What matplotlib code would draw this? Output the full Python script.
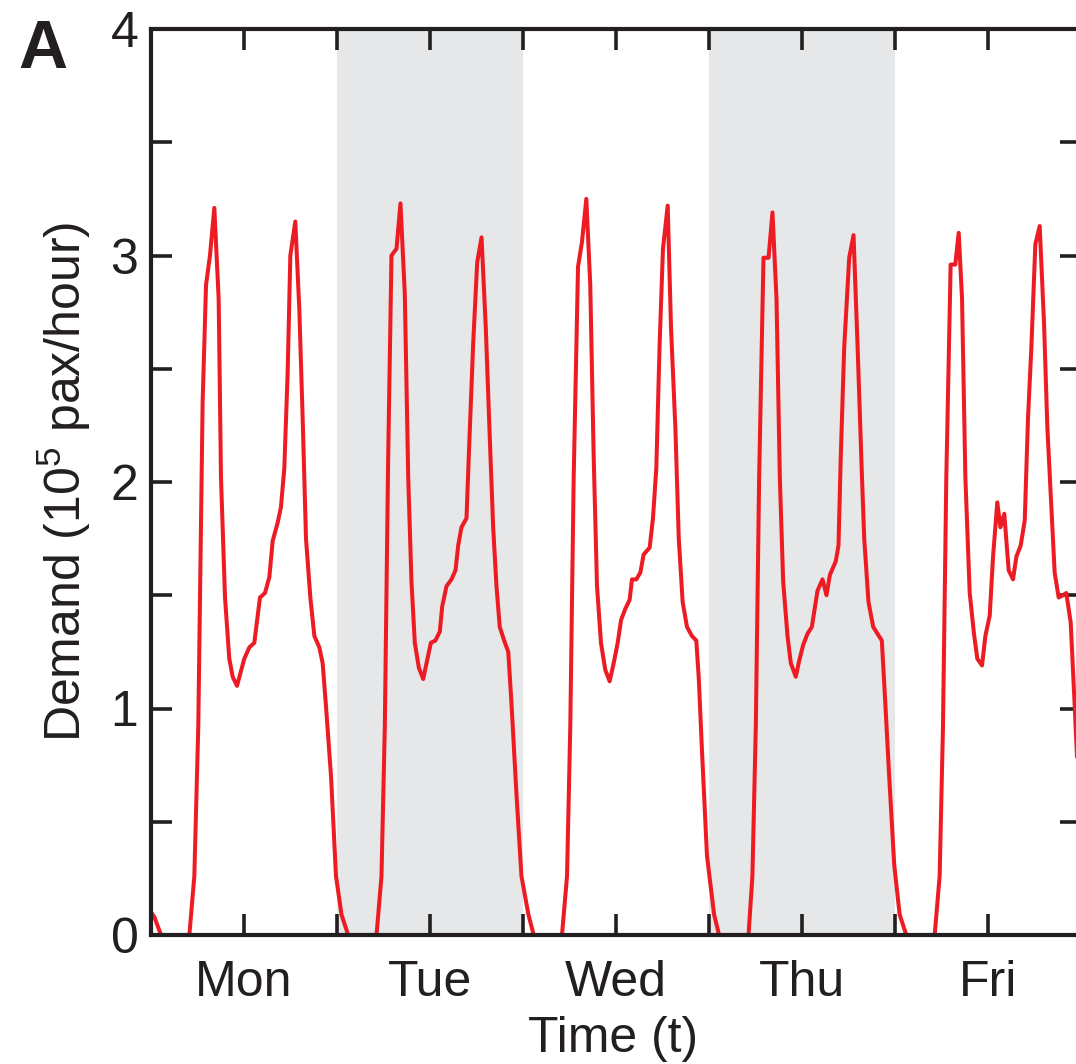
import numpy as np
import matplotlib
matplotlib.use("Agg")
import matplotlib.pyplot as plt
from matplotlib.ticker import MultipleLocator, FixedLocator, FixedFormatter

plt.rcParams['font.family'] = ['Liberation Sans', 'DejaVu Sans']
plt.rcParams['mathtext.fontset'] = 'custom'
plt.rcParams['mathtext.rm'] = 'Liberation Sans'

# ---- data: hour of day (0-24) and demand (10^5 pax/hour) ----
day_names = ["Mon", "Tue", "Wed", "Thu", "Fri"]
shaded_days = [1, 3]  # Tue, Thu

mon_h = [0.0, 0.43, 1.29, 4.95, 5.59, 6.1, 6.45, 6.66, 7.1, 7.61, 8.17, 8.73, 9.03, 9.55, 10.1, 10.54,
         11.1, 12.04, 12.69, 13.33, 14.06, 14.71, 15.27, 15.7, 16.34, 16.77, 17.2, 17.63, 17.98, 18.62,
         19.14, 19.57, 20.0, 20.56, 21.08, 21.72, 22.15, 22.58, 23.23, 23.87]
mon_v = [0.10, 0.08, 0.0, 0.0, 0.26, 0.92, 1.8, 2.35, 2.87, 3.0, 3.21, 2.81, 2.02, 1.49, 1.22, 1.14,
         1.10, 1.22, 1.27, 1.29, 1.49, 1.51, 1.58, 1.74, 1.82, 1.89, 2.06, 2.48, 3.0, 3.15,
         2.76, 2.28, 1.75, 1.49, 1.32, 1.27, 1.20, 1.01, 0.70, 0.26]

tue_h = [0.58, 1.44, 5.1, 5.74, 6.17, 6.6, 7.03, 7.68, 8.19, 8.75, 9.19, 9.61, 10.04, 10.56, 11.12,
         11.55, 12.11, 12.7, 13.27, 13.57, 14.13, 14.77, 15.29, 15.64, 16.06, 16.71, 17.0, 17.57,
         18.09, 18.65, 19.2, 19.72, 20.15, 20.58, 21.0, 21.57, 22.1, 22.5, 23.16, 23.8]
tue_v = [0.09, 0.0, 0.0, 0.26, 0.92, 2.1, 3.0, 3.03, 3.23, 2.83, 2.02, 1.56, 1.29, 1.18, 1.13,
         1.20, 1.29, 1.30, 1.34, 1.45, 1.54, 1.57, 1.61, 1.72, 1.80, 1.84, 2.11, 2.61,
         2.97, 3.08, 2.68, 2.19, 1.80, 1.54, 1.36, 1.30, 1.25, 1.03, 0.62, 0.26]

wed_h = [0.7, 1.38, 5.03, 5.68, 6.1, 6.54, 7.1, 7.61, 8.17, 8.68, 9.12, 9.55, 10.06, 10.62, 11.18,
         11.7, 12.22, 12.65, 13.2, 13.76, 14.06, 14.62, 15.14, 15.57, 16.34, 16.77, 17.2, 17.63,
         18.06, 18.67, 19.1, 19.66, 20.1, 20.6, 21.16, 21.8, 22.36, 22.67, 23.1, 23.74]
wed_v = [0.09, 0.0, 0.0, 0.26, 0.92, 2.02, 2.95, 3.06, 3.25, 2.87, 2.11, 1.54, 1.29, 1.17, 1.12,
         1.20, 1.29, 1.39, 1.44, 1.48, 1.57, 1.57, 1.60, 1.68, 1.71, 1.84, 2.06, 2.61,
         3.03, 3.22, 2.68, 2.24, 1.75, 1.47, 1.36, 1.32, 1.30, 1.14, 0.81, 0.35]

thu_h = [0.66, 1.3, 5.1, 5.6, 6.04, 6.47, 7.03, 7.68, 8.19, 8.71, 9.14, 9.57, 10.13, 10.56, 11.2,
         11.63, 12.15, 12.71, 13.27, 14.0, 14.65, 15.16, 15.6, 16.36, 16.71, 17.0, 17.44, 18.09,
         18.65, 19.16, 19.72, 20.03, 20.58, 21.19, 21.74, 22.3, 22.74, 23.25, 23.9]
thu_v = [0.09, 0.0, 0.0, 0.26, 0.92, 2.02, 2.99, 2.99, 3.19, 2.81, 2.02, 1.56, 1.32, 1.20, 1.14,
         1.21, 1.28, 1.33, 1.36, 1.52, 1.57, 1.50, 1.59, 1.65, 1.72, 2.11, 2.59, 2.99,
         3.09, 2.61, 2.04, 1.75, 1.47, 1.36, 1.33, 1.30, 1.03, 0.70, 0.31]

fri_h = [0.6, 1.46, 5.12, 5.76, 6.19, 6.62, 7.18, 7.78, 8.22, 8.65, 9.08, 9.64, 10.19, 10.62, 11.23,
         11.66, 12.22, 12.65, 13.2, 13.6, 14.1, 14.67, 15.23, 15.66, 16.22, 16.74, 17.16, 17.59,
         18.11, 18.67, 19.23, 19.66, 20.17, 20.6, 21.12, 21.68, 22.1, 22.67, 23.19, 23.74, 24.0]
fri_v = [0.09, 0.0, 0.0, 0.26, 0.92, 2.02, 2.96, 2.96, 3.10, 2.81, 2.02, 1.51, 1.33, 1.22, 1.19,
         1.32, 1.41, 1.67, 1.91, 1.80, 1.86, 1.61, 1.57, 1.67, 1.72, 1.83, 2.28, 2.59,
         3.05, 3.13, 2.70, 2.24, 1.89, 1.60, 1.49, 1.50, 1.51, 1.38, 1.01, 0.59, 0.47]

y_ticks = [0, 1, 2, 3, 4]

# ---- assemble ----
days_h = [mon_h, tue_h, wed_h, thu_h, fri_h]
days_v = [mon_v, tue_v, wed_v, thu_v, fri_v]
t = np.concatenate([np.array(h) + 24 * i for i, h in enumerate(days_h)])
v = np.concatenate([np.array(x) for x in days_v])

INK = '#231F20'
RED = '#ED1C24'
GRAY = '#E6E7E8'

W, H = 1076, 1064
fig = plt.figure(figsize=(W / 100, H / 100), dpi=100)
ax = fig.add_axes([151 / W, (H - 935) / H, 930 / W, 906 / H])

for d in shaded_days:
    ax.axvspan(24 * d, 24 * (d + 1), color=GRAY, lw=0, zorder=0)

ax.plot(t, v, color=RED, lw=2.9, zorder=3, solid_joinstyle='round', solid_capstyle='round')

ax.set_xlim(0, 24 * len(day_names))
ax.set_ylim(0, 4)

centers = [24 * i + 12 for i in range(len(day_names))]
bounds = [24 * i for i in range(1, len(day_names))]
ax.xaxis.set_major_locator(FixedLocator(centers))
ax.xaxis.set_major_formatter(FixedFormatter(day_names))
ax.xaxis.set_minor_locator(FixedLocator(bounds))
ax.yaxis.set_major_locator(FixedLocator(y_ticks))
ax.yaxis.set_minor_locator(MultipleLocator(0.5))

for which in ('major', 'minor'):
    ax.tick_params(axis='both', which=which, direction='in', length=15, width=2.6,
                   color=INK, top=True, right=True)
ax.tick_params(axis='x', which='major', labelsize=36, labelcolor=INK, pad=18)
ax.tick_params(axis='y', which='major', labelsize=36, labelcolor=INK, pad=9)

for s in ax.spines.values():
    s.set_linewidth(3.0)
    s.set_color(INK)
    s.set_zorder(5)

ax.set_ylabel(r'Demand (10$^{\mathregular{5}}$ pax/hour)', fontsize=36, color=INK)
ax.yaxis.set_label_coords((93 - 151) / 930, 0.5)

fig.text(613 / W, (H - 1052) / H, 'Time (t)', fontsize=36, color=INK,
         ha='center', va='baseline')
fig.text(18 / W, (H - 68) / H, 'A', fontsize=49, fontweight='bold', color=INK,
         ha='left', va='baseline')

fig.savefig('out.png', dpi=100)
